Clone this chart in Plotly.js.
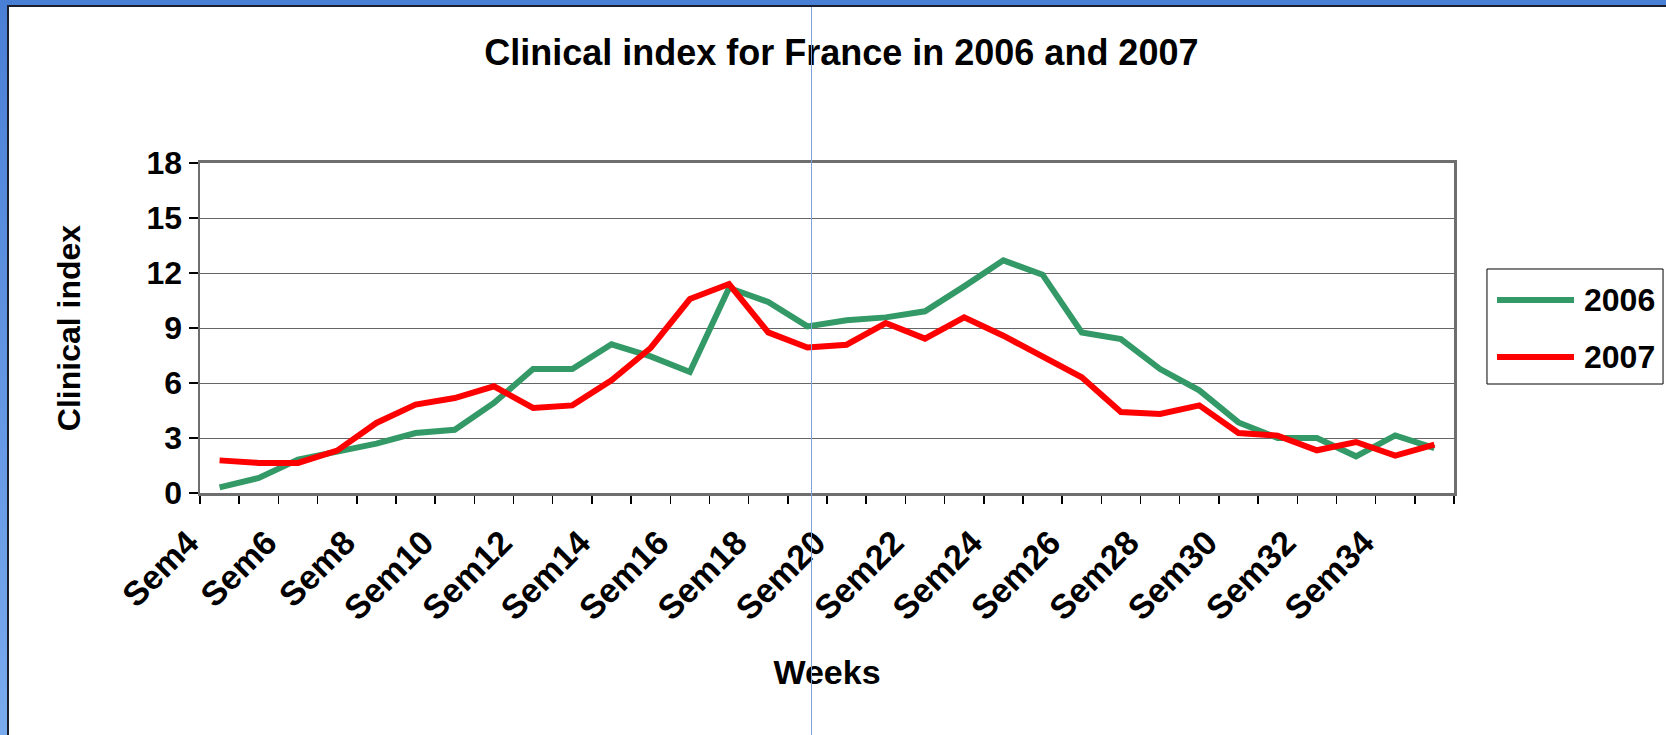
<!DOCTYPE html>
<html>
<head>
<meta charset="utf-8">
<script src="https://cdn.plot.ly/plotly-3.0.1.min.js"></script>
<style>
  html, body { margin: 0; padding: 0; background: #fff; overflow: hidden; }
  #chart { position: absolute; left: 0; top: 0; width: 1666px; height: 735px; }
  .deco { position: absolute; pointer-events: none; }
</style>
</head>
<body>
<div id="chart"></div>
<div class="deco" style="left:0;top:0;width:1666px;height:5px;background:#4a7fd6;"></div>
<div class="deco" style="left:0;top:5px;width:1666px;height:2px;background:#1a1f2e;"></div>
<div class="deco" style="left:0;top:0;width:7px;height:735px;background:linear-gradient(#4a7fd6,#7aabee);"></div>
<div class="deco" style="left:7px;top:5px;width:2px;height:730px;background:#1a1f2e;"></div>
<div class="deco" style="left:811px;top:7px;width:1px;height:728px;background:#7ea3dc;"></div>
<script>
const weeks = ["Sem4","Sem5","Sem6","Sem7","Sem8","Sem9","Sem10","Sem11","Sem12","Sem13",
               "Sem14","Sem15","Sem16","Sem17","Sem18","Sem19","Sem20","Sem21","Sem22","Sem23",
               "Sem24","Sem25","Sem26","Sem27","Sem28","Sem29","Sem30","Sem31","Sem32","Sem33",
               "Sem34","Sem35"];
const index2006 = [0.31,0.82,1.82,2.27,2.69,3.27,3.45,4.91,6.76,6.76,
                   8.11,7.45,6.60,11.18,10.42,9.09,9.42,9.58,9.91,11.27,
                   12.69,11.91,8.76,8.40,6.76,5.60,3.85,3.00,3.00,2.00,
                   3.14,2.45];
const index2007 = [1.78,1.64,1.64,2.31,3.82,4.82,5.18,5.82,4.64,4.78,
                   6.15,7.91,10.58,11.40,8.76,7.94,8.09,9.27,8.42,9.58,
                   8.58,7.45,6.31,4.42,4.31,4.78,3.27,3.13,2.33,2.78,
                   2.04,2.64];
const yTicks = [0,3,6,9,12,15,18];
const seriesNames = ['2006', '2007'];
const seriesColors = ['#339966', '#ff0000'];

const FONT = '"Liberation Sans", Arial, sans-serif';
const tickText = weeks.map((w, i) => (i % 2 === 0 ? w : ''));
const seriesData = [index2006, index2007];

const traces = seriesData.map((vals, i) => ({
  x: weeks, y: vals, name: seriesNames[i], type: 'scatter', mode: 'lines',
  line: { color: seriesColors[i], width: 6 }, showlegend: false
}));

// legend box (drawn in paper coordinates, to the right of the plot)
const legBox = { x0: 1.0263, x1: 1.1667, y0: 0.3303, y1: 0.6788 };
const legRowsY = [0.5848, 0.4121];
const shapes = [
  { type: 'rect', xref: 'paper', yref: 'paper', x0: legBox.x0, x1: legBox.x1, y0: legBox.y0, y1: legBox.y1,
    line: { color: '#000', width: 1 }, fillcolor: '#fff', layer: 'below' }
];
const annotations = [];
seriesNames.forEach((n, i) => {
  shapes.push({ type: 'line', xref: 'paper', yref: 'paper', x0: 1.0343, x1: 1.0957,
    y0: legRowsY[i], y1: legRowsY[i], line: { color: seriesColors[i], width: 6 } });
  annotations.push({ xref: 'paper', yref: 'paper', x: 1.1021, y: legRowsY[i], xanchor: 'left', yanchor: 'middle',
    text: '<b>' + n + '</b>', showarrow: false, font: { family: FONT, size: 32, color: '#000' } });
});

const layout = {
  width: 1666, height: 735,
  margin: { l: 200, r: 212, t: 163, b: 242 },
  paper_bgcolor: '#ffffff', plot_bgcolor: '#ffffff',
  font: { family: FONT, color: '#000', size: 30 },
  title: {
    text: '<b>Clinical index for France in 2006 and 2007</b>',
    font: { family: FONT, size: 36, color: '#000' },
    x: 0.505, xref: 'container', xanchor: 'center',
    y: 0.929, yref: 'container', yanchor: 'middle'
  },
  xaxis: {
    type: 'category',
    tickmode: 'array', tickvals: weeks, ticktext: tickText,
    tickson: 'boundaries',
    range: [-0.5, weeks.length - 0.5],
    tickangle: -45,
    tickfont: { family: FONT, size: 34, color: '#000', weight: 'bold' },
    ticks: 'outside', ticklen: 8, tickwidth: 1.5, tickcolor: '#000',
    ticklabelstandoff: 13, ticklabelshift: -31,
    showline: true, linecolor: '#6e6e6e', linewidth: 3, mirror: true,
    showgrid: false, zeroline: false,
    title: { text: '<b>Weeks</b>', font: { family: FONT, size: 34, color: '#000' }, standoff: 34 }
  },
  yaxis: {
    range: [0, 18], tickmode: 'array', tickvals: yTicks,
    tickfont: { family: FONT, size: 32, color: '#000', weight: 'bold' },
    ticks: 'outside', ticklen: 9, tickwidth: 1.5, tickcolor: '#000',
    showline: true, linecolor: '#6e6e6e', linewidth: 2.5, mirror: true,
    showgrid: true, gridcolor: '#666666', gridwidth: 1,
    zeroline: false,
    title: { text: '<b>Clinical index</b>', font: { family: FONT, size: 32, color: '#000' }, standoff: 57 }
  },
  showlegend: false,
  shapes: shapes,
  annotations: annotations
};

Plotly.newPlot('chart', traces, layout, { displayModeBar: false, staticPlot: true });
</script>
</body>
</html>
